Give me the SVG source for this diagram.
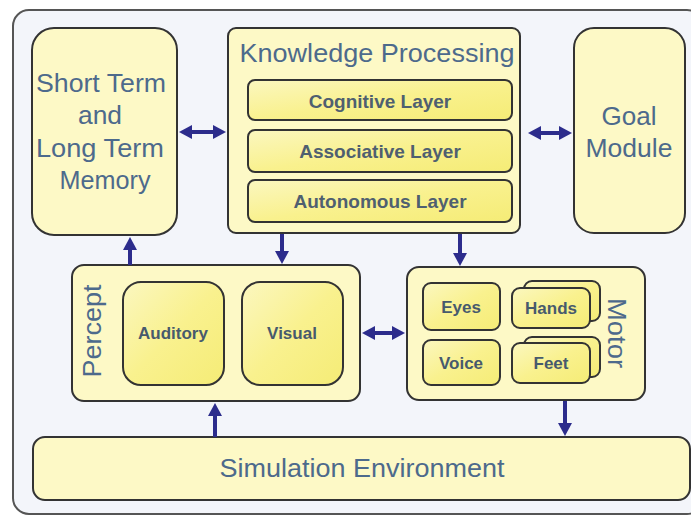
<svg xmlns="http://www.w3.org/2000/svg" width="691" height="516" viewBox="0 0 691 516">
<style>
.frame{fill:#f3f5fa;stroke:#555;stroke-width:2}
.box{fill:#fdf9c6;stroke:#333;stroke-width:2}
.inner{fill:url(#yg);stroke:#333;stroke-width:2}
.big{font-family:"Liberation Sans",Arial,sans-serif;font-size:25px;fill:#4d6a8c;text-anchor:middle}
.lay{font-family:"Liberation Sans",Arial,sans-serif;font-size:19px;font-weight:bold;fill:#4f5f70;text-anchor:middle}
.sm{font-family:"Liberation Sans",Arial,sans-serif;font-size:17px;font-weight:bold;fill:#475a6d;text-anchor:middle}
.arr{stroke:#2c2c8c;stroke-width:4;fill:none;marker-end:url(#ah)}
.dbl{marker-start:url(#ah)}
</style>
<defs>
<linearGradient id="yg" x1="0" y1="0" x2="1" y2="1">
<stop offset="0" stop-color="#fbf7c0"/>
<stop offset="0.5" stop-color="#f9f18e"/>
<stop offset="1" stop-color="#f5ec76"/>
</linearGradient>
<marker id="ah" markerUnits="userSpaceOnUse" markerWidth="14" markerHeight="14" refX="3" refY="7" orient="auto-start-reverse">
<path d="M0,0 L13,7 L0,14 Z" fill="#2c2c8c"/>
</marker>
</defs>
<rect x="0" y="0" width="691" height="516" fill="#ffffff"/>
<rect class="frame" x="13" y="10" width="690" height="504" rx="16"/>

<g id="memory">
<rect class="box" x="32" y="28" width="145" height="207" rx="22"/>
<text class="big" x="101" y="92" textLength="130" lengthAdjust="spacingAndGlyphs">Short Term</text>
<text class="big" x="100" y="124" textLength="44" lengthAdjust="spacingAndGlyphs">and</text>
<text class="big" x="100" y="157" textLength="128" lengthAdjust="spacingAndGlyphs">Long Term</text>
<text class="big" x="105" y="189" textLength="91" lengthAdjust="spacingAndGlyphs">Memory</text>
</g>

<g id="knowledge">
<rect class="box" x="228" y="28" width="292" height="205" rx="8"/>
<text class="big" x="377" y="62" textLength="275" lengthAdjust="spacingAndGlyphs">Knowledge Processing</text>
<g id="cognitive"><rect class="inner" x="248" y="80" width="264" height="40" rx="7"/><text class="lay" x="380" y="108">Cognitive Layer</text></g>
<g id="associative"><rect class="inner" x="248" y="130" width="264" height="42" rx="7"/><text class="lay" x="380" y="158">Associative Layer</text></g>
<g id="autonomous"><rect class="inner" x="248" y="180" width="264" height="42" rx="7"/><text class="lay" x="380" y="208">Autonomous Layer</text></g>
</g>

<g id="goal">
<rect class="box" x="574" y="28" width="111" height="205" rx="20"/>
<text class="big" x="629" y="125" textLength="55" lengthAdjust="spacingAndGlyphs">Goal</text>
<text class="big" x="629" y="157" textLength="87" lengthAdjust="spacingAndGlyphs">Module</text>
</g>

<g id="percept">
<rect class="box" x="72" y="265" width="288" height="136" rx="12"/>
<text class="big" transform="translate(101,331) rotate(-90)" textLength="93" lengthAdjust="spacingAndGlyphs">Percept</text>
<g id="auditory"><rect class="inner" x="123" y="282" width="101" height="103" rx="18"/><text class="sm" x="173" y="339">Auditory</text></g>
<g id="visual"><rect class="inner" x="242" y="282" width="101" height="103" rx="18"/><text class="sm" x="292" y="339">Visual</text></g>
</g>

<g id="motor">
<rect class="box" x="407" y="267" width="238" height="133" rx="12"/>
<text class="big" transform="translate(608,333) rotate(90)" textLength="70" lengthAdjust="spacingAndGlyphs">Motor</text>
<g id="eyes"><rect class="inner" x="423" y="283" width="77" height="47" rx="8"/><text class="sm" x="461" y="313">Eyes</text></g>
<g id="hands"><rect class="inner" x="524" y="281" width="76" height="40" rx="8"/><rect class="inner" x="512" y="288" width="78" height="40" rx="8"/><text class="sm" x="551" y="314">Hands</text></g>
<g id="voice"><rect class="inner" x="423" y="340" width="77" height="45" rx="8"/><text class="sm" x="461" y="369">Voice</text></g>
<g id="feet"><rect class="inner" x="524" y="337" width="76" height="40" rx="8"/><rect class="inner" x="512" y="343" width="78" height="40" rx="8"/><text class="sm" x="551" y="369">Feet</text></g>
</g>

<g id="simulation">
<rect class="box" x="33" y="437" width="657" height="63" rx="12"/>
<text class="big" x="362" y="477" textLength="285" lengthAdjust="spacingAndGlyphs">Simulation Environment</text>
</g>

<g id="connectors">
<line class="arr dbl" x1="189" y1="132" x2="216" y2="132"/>
<line class="arr dbl" x1="538" y1="133" x2="562" y2="133"/>
<line class="arr" x1="130" y1="265" x2="130" y2="247"/>
<line class="arr" x1="282" y1="234" x2="282" y2="254"/>
<line class="arr" x1="460" y1="234" x2="460" y2="256"/>
<line class="arr dbl" x1="372" y1="333" x2="395" y2="333"/>
<line class="arr" x1="215" y1="437" x2="215" y2="413"/>
<line class="arr" x1="565" y1="401" x2="565" y2="426"/>
</g>
</svg>
